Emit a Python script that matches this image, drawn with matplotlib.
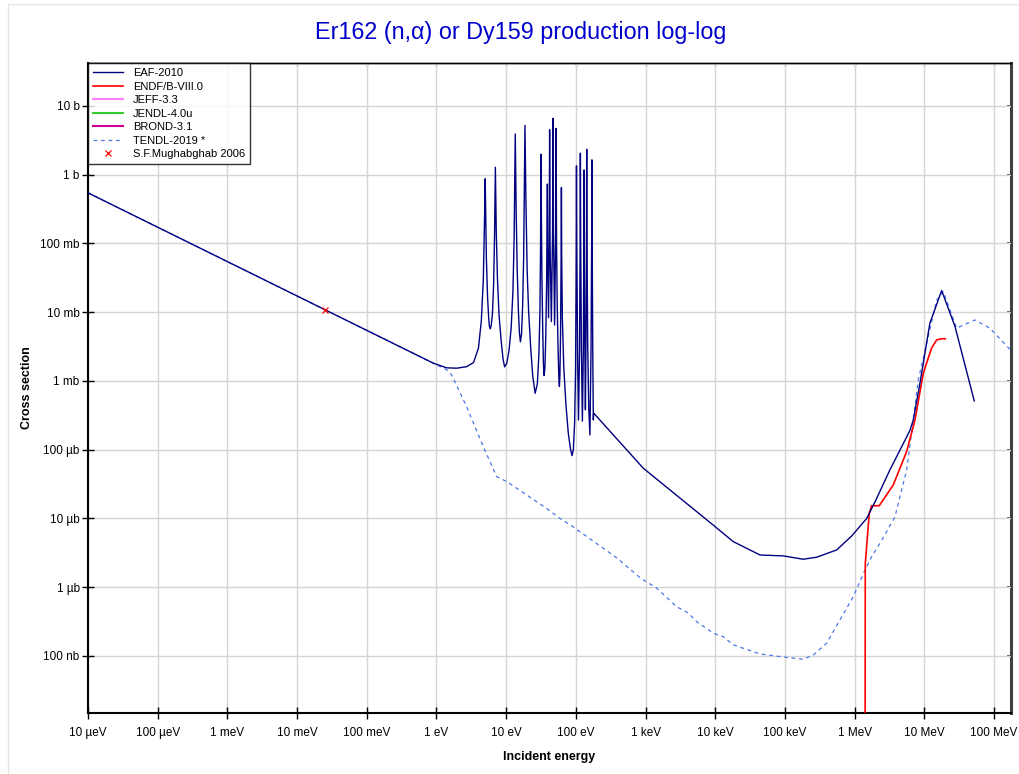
import matplotlib
matplotlib.use("Agg")
import matplotlib.pyplot as plt
from matplotlib.lines import Line2D

plt.rcParams['font.family'] = ['Liberation Sans', 'DejaVu Sans']

# energies in eV, cross sections in barns
eaf_e = [1e-5, 1e-3, 0.0253, 0.1, 0.5, 0.9, 1.4, 1.95, 2.7, 3.4, 4.0, 4.4, 4.7, 4.9,
         5.0, 5.1, 5.2, 5.4, 5.6, 5.75, 5.9, 6.1, 6.35, 6.6, 6.8,
         7.0, 7.2, 7.5, 7.9, 8.5, 9.0, 9.5, 10.2, 11.0, 11.8, 12.5, 13.0,
         13.5, 13.9, 14.4, 15.0, 15.5, 16.0, 16.6, 17.2, 17.8, 18.2,
         18.6, 19.2, 20.0, 21.0, 22.5, 24.0, 26.0, 28.0, 29.5, 30.5, 31.1,
         31.6, 32.0, 32.6, 33.4, 34.2, 35.0, 36.0, 37.0, 38.0, 38.6,
         39.0, 39.5, 40.5, 41.5, 42.0, 42.6, 44.5, 46.3, 47.0, 47.7, 49.5, 51.3,
         52.0, 52.8, 54.0, 55.5, 57.0, 58.0, 59.0, 60.3, 61.3,
         62.0, 62.6, 64.0, 67.0, 72.0, 78.0, 84.0, 88.0, 92.0, 96.0, 99.0, 100.7,
         102.0, 103.0, 106.0, 109.0, 113.0, 115.0, 116.0, 117.2,
         120.0, 124.0, 128.0, 130.0, 131.0, 132.0, 134.5, 137.0, 140.0, 142.0,
         143.0, 144.2, 148.0, 153.0, 159.0, 165.0, 168.5, 170.0, 171.5, 175.0, 178.0,
         180.0, 927.0, 9.35e3, 1.81e4, 4.38e4, 9.46e4, 1.83e5, 2.85e5, 5.52e5,
         9.06e5, 1.49e6, 2.02e6, 3.2e6, 6.2e6, 6.93e6, 8.65e6, 1.2e7, 1.77e7,
         2.75e7, 5.2e7]
eaf_xs = [0.543, 0.0543, 0.0108, 0.00543, 0.00243, 0.00181, 0.00155, 0.00153,
          0.00161, 0.00185, 0.0030, 0.0075, 0.030, 0.25,
          0.87, 0.25, 0.06, 0.017, 0.0085, 0.0062, 0.0057, 0.0064, 0.0095, 0.025, 0.12,
          1.28, 0.15, 0.03, 0.009, 0.0037, 0.0021, 0.0016, 0.0018, 0.0028, 0.006, 0.02, 0.12,
          3.9, 0.3, 0.04, 0.01, 0.005, 0.0037, 0.0048, 0.012, 0.06, 0.5,
          5.2, 0.4, 0.04, 0.01, 0.003, 0.0012, 0.00066, 0.0009, 0.0025, 0.01, 0.08,
          1.98, 0.25, 0.03, 0.006, 0.0018, 0.0012, 0.0016, 0.0045, 0.025, 0.15,
          0.73, 0.08, 0.0083, 0.1, 4.5, 0.1, 0.0073, 0.15, 6.6, 0.15, 0.0065, 0.15,
          4.7, 0.1, 0.012, 0.003, 0.0011, 0.00083, 0.0012, 0.005, 0.05,
          0.65, 0.06, 0.008, 0.0016, 0.00045, 0.00017, 0.0001, 8.2e-5, 0.0001, 0.00025,
          0.0015, 0.03,
          1.34, 0.1, 0.002, 0.00027, 0.003, 0.1, 2.05, 0.1,
          0.003, 0.00026, 0.003, 0.08, 1.17, 0.08, 0.003, 0.00038, 0.005, 0.15,
          2.34, 0.12, 0.003, 0.0004, 0.000164, 0.003, 0.1, 1.64, 0.08, 0.002, 0.00027,
          0.00034, 5.37e-5, 8.0e-6, 4.6e-6, 2.94e-6, 2.85e-6, 2.55e-6, 2.73e-6, 3.48e-6,
          5.56e-6, 1.0e-5, 1.86e-5, 5.07e-5, 1.9e-4, 2.7e-4, 9.3e-4, 6.9e-3, 2.06e-2,
          6.2e-3, 5.1e-4]

endf_e = [1.40e6, 1.42e6, 1.62e6, 1.75e6, 2.25e6, 3.58e6, 5.57e6, 7.33e6, 9.64e6,
          1.27e7, 1.5e7, 1.77e7, 2.0e7]
endf_xs = [1e-12, 2.2e-6, 1.19e-5, 1.53e-5, 1.53e-5, 3.07e-5, 9.4e-5, 2.7e-4, 1.29e-3,
           3.0e-3, 3.95e-3, 4.1e-3, 4.1e-3]

tendl_e = [1e-5, 0.0253, 0.9, 1.40, 1.65, 2.71, 4.69, 7.3, 10.2, 38.0, 59.0, 87.0,
           400.0, 480.0, 850.0, 1440.0, 2790.0, 4100.0, 5410.0, 9350.0, 1.3e4, 1.81e4,
           4.38e4, 8.47e4, 1.83e5, 2.55e5, 3.96e5, 6.15e5, 9.55e5, 1.33e6, 1.75e6,
           2.31e6, 3.79e6, 5.57e6, 6.93e6, 8.18e6, 1.08e7, 1.5e7, 1.87e7, 2.9e7,
           5.3e7, 8.7e7, 2.0e8]
tendl_xs = [0.543, 0.0108, 0.00181, 0.00145, 0.00122, 0.00042, 0.000111, 4.06e-5,
            3.43e-5, 1.4e-5, 1.0e-5, 7.8e-6, 2.6e-6, 2.2e-6, 1.35e-6, 0.97e-6, 0.52e-6,
            0.42e-6, 0.315e-6, 0.214e-6, 0.191e-6, 0.145e-6, 0.107e-6, 0.098e-6,
            0.0895e-6, 0.103e-6, 0.153e-6, 0.334e-6, 0.73e-6, 1.56e-6, 2.78e-6,
            4.36e-6, 1.06e-5, 5.07e-5, 2.7e-4, 1.04e-3, 3.53e-3, 1.5e-2, 1.99e-2,
            5.85e-3, 7.7e-3, 5.85e-3, 2.4e-3]

mugh_e = [0.0253]
mugh_xs = [0.0108]

x_ticks = [1e-5, 1e-4, 1e-3, 1e-2, 1e-1, 1, 10, 100, 1e3, 1e4, 1e5, 1e6, 1e7, 1e8]
x_labels = ['10 µeV', '100 µeV', '1 meV', '10 meV', '100 meV', '1 eV', '10 eV', '100 eV',
            '1 keV', '10 keV', '100 keV', '1 MeV', '10 MeV', '100 MeV']
y_ticks = [1e-7, 1e-6, 1e-5, 1e-4, 1e-3, 1e-2, 1e-1, 1, 10]
y_labels = ['100 nb', '1 µb', '10 µb', '100 µb', '1 mb', '10 mb', '100 mb', '1 b', '10 b']

fig = plt.figure(figsize=(10.2, 7.74), dpi=100)
ax = fig.add_axes([88 / 1020, 61 / 774, 923 / 1020, 650 / 774])

# faint outer frame
fig.add_artist(Line2D([8 / 1020, 8 / 1020], [0, 1 - 4 / 774], color='#e6e6e6', lw=1))
fig.add_artist(Line2D([8 / 1020, 1], [1 - 4 / 774, 1 - 4 / 774], color='#e6e6e6', lw=1))

ax.plot(eaf_e, eaf_xs, color='#000080', lw=1.0, label='EAF-2010', zorder=4)
ax.plot(endf_e, endf_xs, color='#ff0000', lw=1.2, label='ENDF/B-VIII.0', zorder=3)
ax.plot([], [], color='#ff80ff', lw=1.5, label='JEFF-3.3')
ax.plot([], [], color='#33cc33', lw=1.5, label='JENDL-4.0u')
ax.plot([], [], color='#cc0099', lw=1.5, label='BROND-3.1')
ax.plot(tendl_e, tendl_xs, color='#4a78e8', lw=0.9, ls=(0, (3, 3)), label='TENDL-2019 *', zorder=2)
ax.plot(mugh_e, mugh_xs, ls='none', marker='x', color='#ff0000', ms=5, mew=0.9,
        label='S.F.Mughabghab 2006', zorder=5)

ax.set_xscale('log')
ax.set_yscale('log')
ax.set_xlim(1e-5, 1.75e8)
ax.set_ylim(1.48e-8, 42)
ax.set_xticks(x_ticks)
ax.set_xticklabels(x_labels)
ax.set_yticks(y_ticks)
ax.set_yticklabels(y_labels)
ax.minorticks_off()
ax.grid(True, color='#d4d4d4', lw=1)
ax.set_axisbelow(True)
ax.tick_params(axis='both', labelsize=8.5, direction='inout', length=8, width=1)
ax.tick_params(axis='y', pad=2)
ax.tick_params(axis='x', pad=6)
ax.spines['left'].set_linewidth(1.5)
ax.spines['bottom'].set_linewidth(1.5)
ax.spines['top'].set_linewidth(1.0)
ax.spines['right'].set_visible(False)

# short inward ticks on the right and top sides
sec = ax.secondary_yaxis('right')
sec.set_yticks(y_ticks)
sec.tick_params(direction='in', length=3, width=1.2, color='#404040', labelright=False)
sec.minorticks_off()
sec.spines['right'].set_linewidth(2.2)
sec.spines['right'].set_color('#404040')

top = ax.secondary_xaxis('top')
top.set_xticks(x_ticks)
top.tick_params(direction='in', length=2.5, width=1, color='#606060', labeltop=False)
top.minorticks_off()
top.spines['top'].set_linewidth(1.0)

fig.text(521 / 1020, 1 - 33 / 774, 'Er162 (n,α) or Dy159 production log-log',
         color='#0000cc', fontsize=16.8, ha='center', va='center')
ax.set_xlabel('Incident energy', fontweight='bold', fontsize=9, labelpad=9)
ax.set_ylabel('Cross section', fontweight='bold', fontsize=9, labelpad=5)

leg = ax.legend(loc='upper left', fontsize=8, frameon=True, fancybox=False,
                borderaxespad=0, handlelength=2.7, borderpad=0.45, labelspacing=0.32,
                handletextpad=0.9)
leg.get_frame().set_edgecolor('black')
leg.get_frame().set_linewidth(1.0)
leg.set_zorder(6)

fig.savefig('out.png', dpi=100)
